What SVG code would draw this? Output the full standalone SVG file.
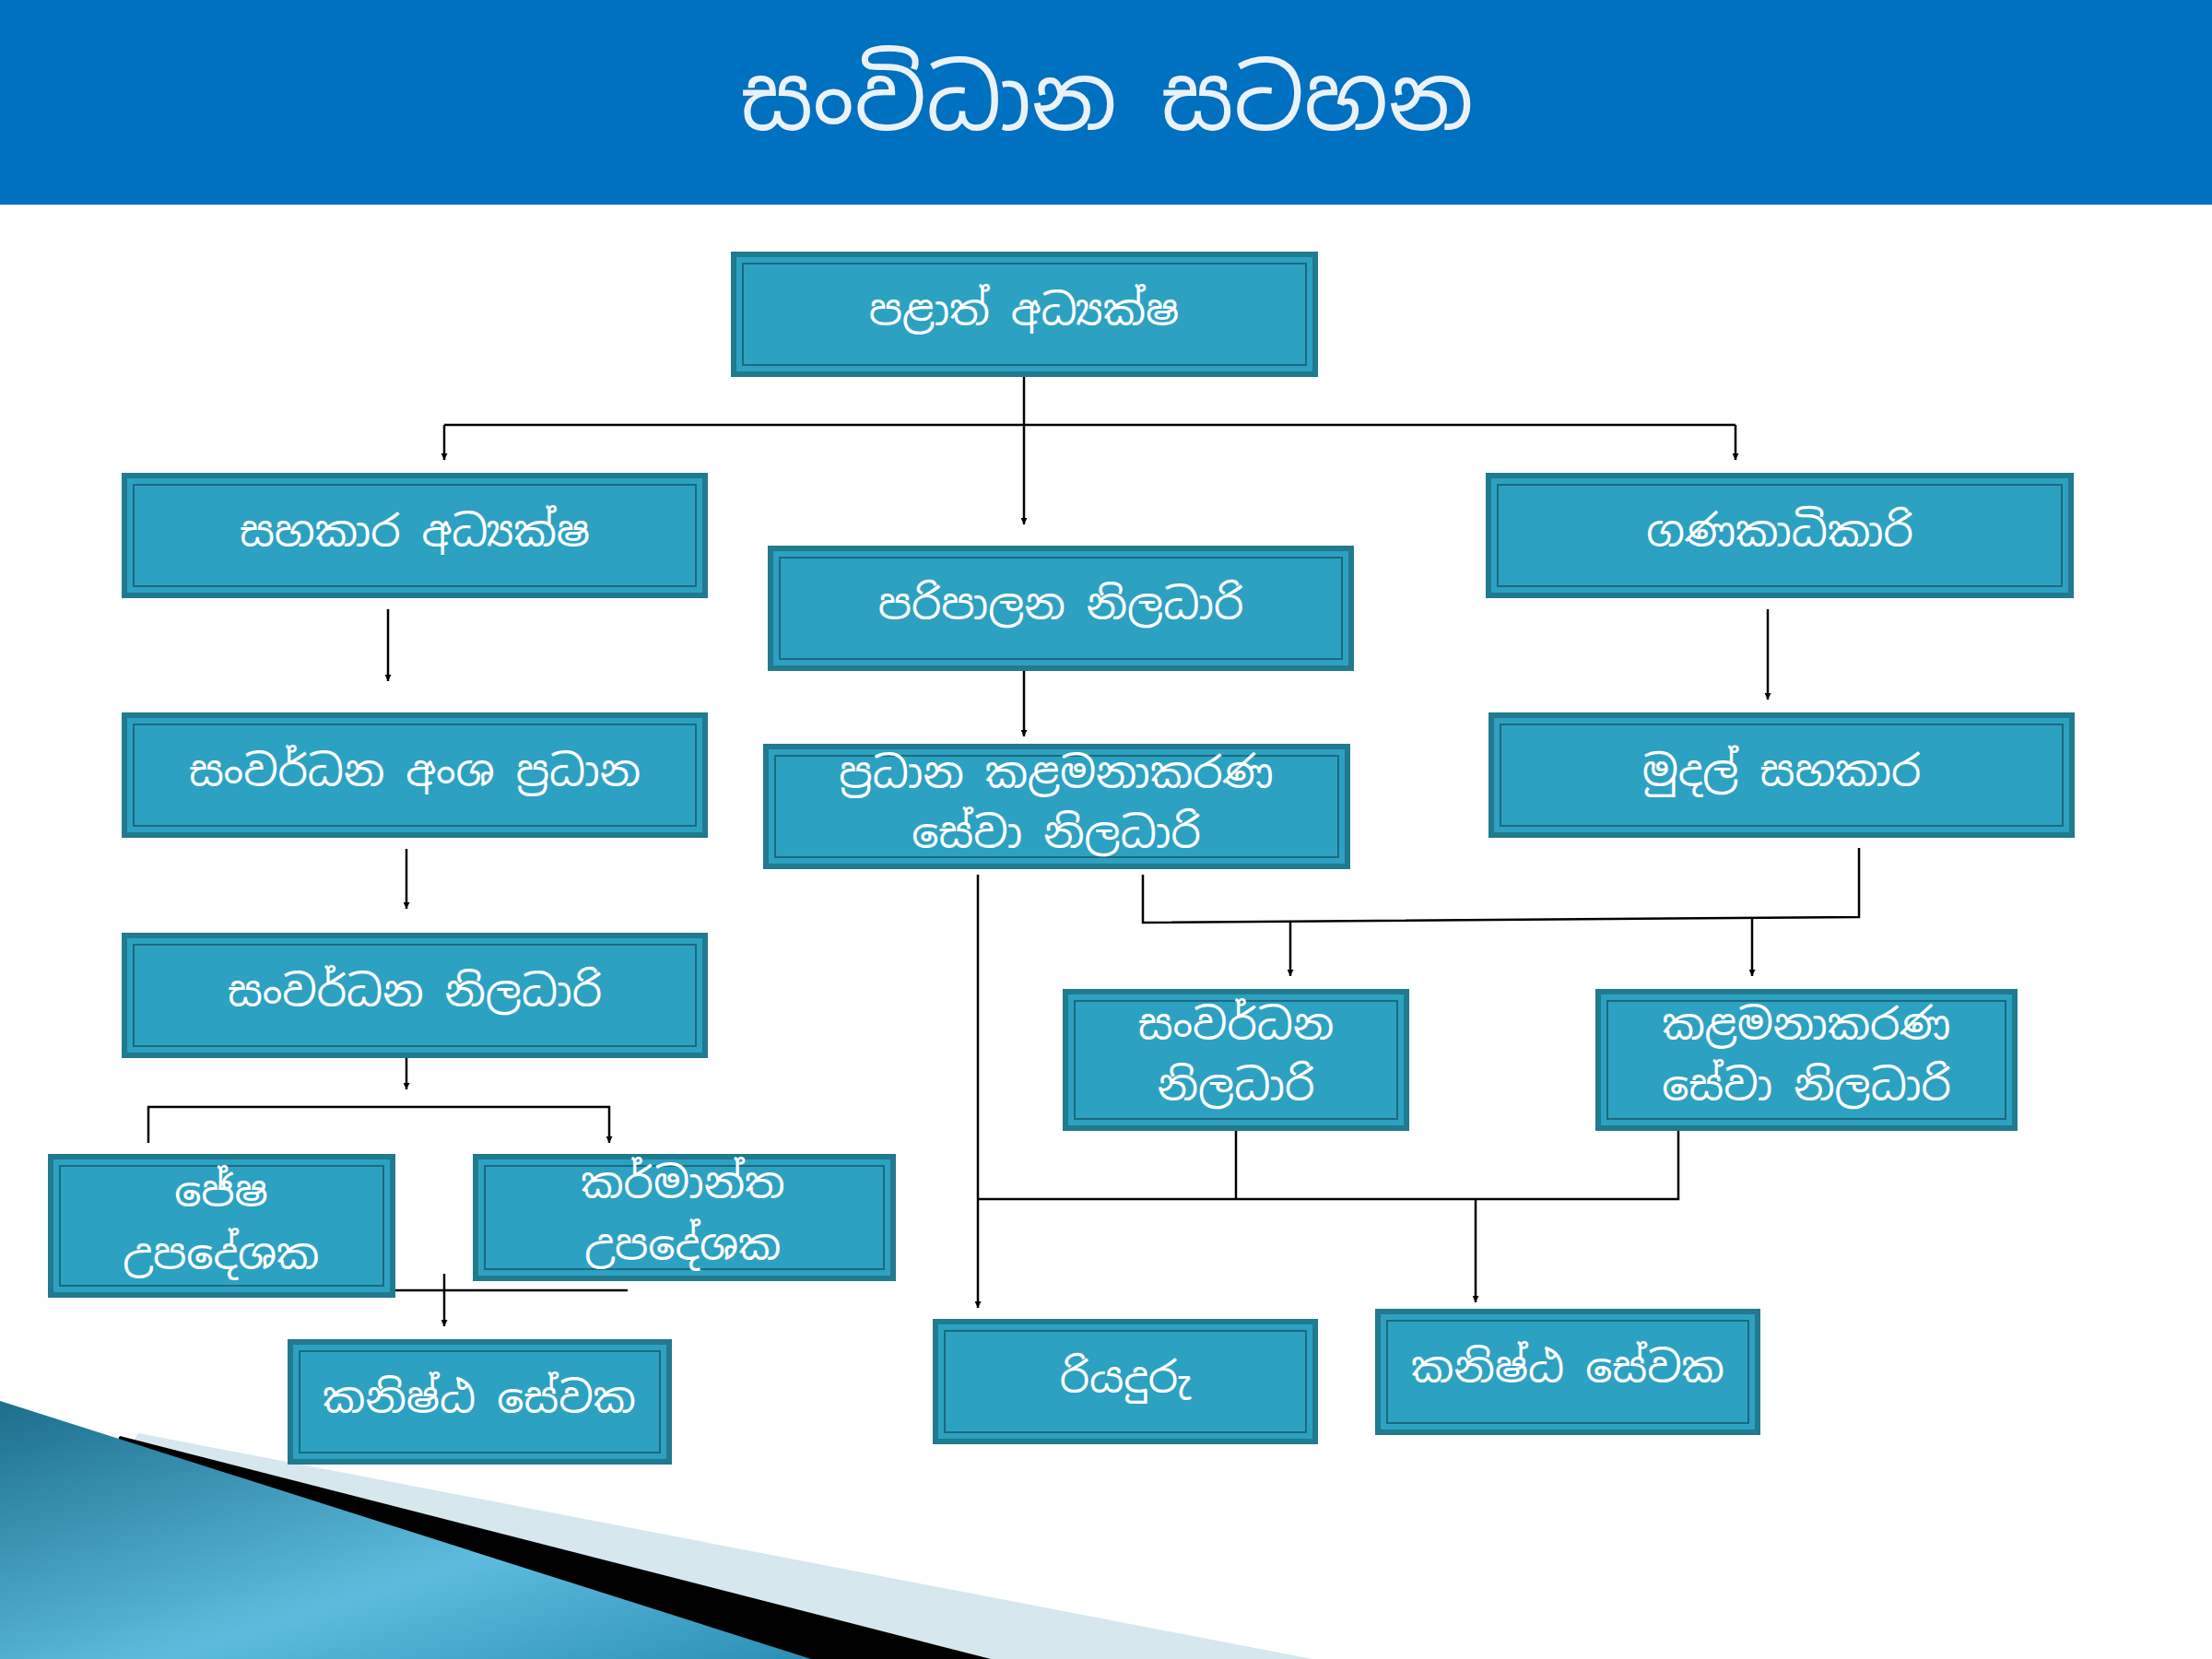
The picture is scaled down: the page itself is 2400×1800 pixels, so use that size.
<svg xmlns="http://www.w3.org/2000/svg" width="2400" height="1800" viewBox="0 0 2400 1800">
<style>
.box{fill:#2DA1C2;stroke:#217A8E;stroke-width:6}
.in{fill:none;stroke:#1C6A7E;stroke-width:2}
.t{font-family:"Noto Sans Sinhala","Noto Sans","DejaVu Sans",sans-serif;font-size:46px;fill:#fff;text-anchor:middle;dominant-baseline:middle}
.c line,.c polyline{stroke:#000;stroke-width:2.5;fill:none}
</style>
<defs>
<marker id="a" viewBox="0 0 10 10" refX="10" refY="5" markerWidth="7" markerHeight="7" orient="auto" markerUnits="userSpaceOnUse"><path d="M0,0L10,5L0,10z" fill="#000"/></marker>
<linearGradient id="g" x1="0" y1="0" x2="1" y2="1"><stop offset="0" stop-color="#1C6E8C"/><stop offset="0.6" stop-color="#5DBCDD"/><stop offset="1" stop-color="#2B8FB5"/></linearGradient>
</defs>
<rect width="2400" height="1800" fill="#fff"/>
<rect width="2400" height="222" fill="#0070C0"/>
<text x="1201" y="115" style="font-family:'Noto Sans Sinhala','Noto Sans',sans-serif;font-size:96px;fill:#EAF2F8;text-anchor:middle;dominant-baseline:middle">සංවිධාන සටහන</text>
<polygon points="150,1555 1424,1800 0,1800" fill="#D7E7EE"/>
<polygon points="130,1558 1075,1800 0,1800" fill="#000"/>
<polygon points="0,1520 880,1800 0,1800" fill="url(#g)"/>
<g class="c" marker-end="url(#a)">
<line x1="1111" y1="406" x2="1111" y2="569"/>
<line x1="482" y1="461" x2="1883" y2="461" marker-end="none"/>
<line x1="482" y1="461" x2="482" y2="499"/>
<line x1="1883" y1="461" x2="1883" y2="499"/>
<line x1="421" y1="661" x2="421" y2="739"/>
<line x1="1918" y1="661" x2="1918" y2="759"/>
<line x1="1111" y1="725" x2="1111" y2="799"/>
<line x1="441" y1="921" x2="441" y2="986"/>
<line x1="441" y1="1145" x2="441" y2="1182"/>
<polyline points="161,1240 161,1201 661,1201 661,1240"/>
<line x1="237" y1="1400" x2="681" y2="1400" marker-end="none"/>
<line x1="482" y1="1382" x2="482" y2="1439"/>
<line x1="1061" y1="949" x2="1061" y2="1419"/>
<polyline points="1240,949 1240,1001 2017,995 2017,920" marker-end="none"/>
<line x1="1400" y1="1000" x2="1400" y2="1059"/>
<line x1="1901" y1="997" x2="1901" y2="1059"/>
<polyline points="1341,1224 1341,1301" marker-end="none"/>
<polyline points="1061,1301 1821,1301 1821,1224" marker-end="none"/>
<line x1="1601" y1="1301" x2="1601" y2="1413"/>
</g>
<g id="n1"><rect class="box" x="796" y="276" width="631" height="130"/><rect class="in" x="806" y="286" width="611" height="110"/><text class="t" x="1111" y="341">පළාත් අධ්‍යක්ෂ</text></g>
<g id="n2"><rect class="box" x="135" y="516" width="630" height="130"/><rect class="in" x="145" y="526" width="610" height="110"/><text class="t" x="450" y="581">සහකාර අධ්‍යක්ෂ</text></g>
<g id="n3"><rect class="box" x="836" y="595" width="630" height="130"/><rect class="in" x="846" y="605" width="610" height="110"/><text class="t" x="1151" y="660">පරිපාලන නිලධාරි</text></g>
<g id="n4"><rect class="box" x="1615" y="516" width="632" height="130"/><rect class="in" x="1625" y="526" width="612" height="110"/><text class="t" x="1931" y="581">ගණකාධිකාරි</text></g>
<g id="n5"><rect class="box" x="135" y="776" width="630" height="130"/><rect class="in" x="145" y="786" width="610" height="110"/><text class="t" x="450" y="841">සංවර්ධන අංශ ප්‍රධාන</text></g>
<g id="n6"><rect class="box" x="831" y="810" width="631" height="130"/><rect class="in" x="841" y="820" width="611" height="110"/><text class="t" x="1146" y="843">ප්‍රධාන කළමනාකරණ</text><text class="t" x="1146" y="908">සේවා නිලධාරි</text></g>
<g id="n7"><rect class="box" x="1618" y="776" width="630" height="130"/><rect class="in" x="1628" y="786" width="610" height="110"/><text class="t" x="1933" y="841">මුදල් සහකාර</text></g>
<g id="n8"><rect class="box" x="135" y="1015" width="630" height="130"/><rect class="in" x="145" y="1025" width="610" height="110"/><text class="t" x="450" y="1080">සංවර්ධන නිලධාරි</text></g>
<g id="n9"><rect class="box" x="1156" y="1076" width="370" height="148"/><rect class="in" x="1166" y="1086" width="350" height="128"/><text class="t" x="1341" y="1116">සංවර්ධන</text><text class="t" x="1341" y="1182">නිලධාරි</text></g>
<g id="n10"><rect class="box" x="1734" y="1076" width="452" height="148"/><rect class="in" x="1744" y="1086" width="432" height="128"/><text class="t" x="1960" y="1116">කළමනාකරණ</text><text class="t" x="1960" y="1182">සේවා නිලධාරි</text></g>
<g id="n11"><rect class="box" x="55" y="1255" width="371" height="150"/><rect class="in" x="65" y="1265" width="351" height="130"/><text class="t" x="240" y="1297">ජේෂ</text><text class="t" x="240" y="1365">උපදේශක</text></g>
<g id="n12"><rect class="box" x="516" y="1255" width="453" height="132"/><rect class="in" x="526" y="1265" width="433" height="112"/><text class="t" x="741" y="1288">කර්මාන්ත</text><text class="t" x="741" y="1355">උපදේශක</text></g>
<g id="n13"><rect class="box" x="315" y="1456" width="411" height="130"/><rect class="in" x="325" y="1466" width="391" height="110"/><text class="t" x="520" y="1521">කනිෂ්ඨ සේවක</text></g>
<g id="n14"><rect class="box" x="1015" y="1434" width="412" height="130"/><rect class="in" x="1025" y="1444" width="392" height="110"/><text class="t" x="1221" y="1499">රියදුරු</text></g>
<g id="n15"><rect class="box" x="1495" y="1423" width="412" height="131"/><rect class="in" x="1505" y="1433" width="392" height="111"/><text class="t" x="1701" y="1488">කනිෂ්ඨ සේවක</text></g>
</svg>
